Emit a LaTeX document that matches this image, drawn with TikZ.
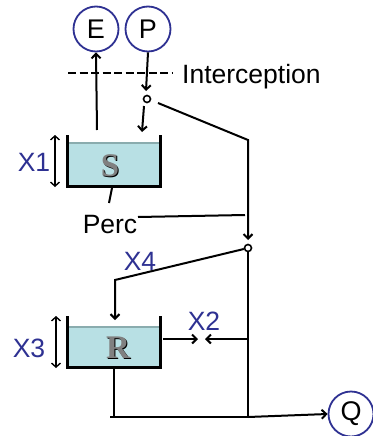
\documentclass[tikz,border=0pt]{standalone}
\usepackage{fontspec}
\setmainfont{Liberation Sans}
\newfontfamily\serifbold{Liberation Serif}
\usetikzlibrary{arrows.meta}
\definecolor{navy}{HTML}{2E3192}
\definecolor{water}{HTML}{B8E0E4}
\definecolor{waterline}{HTML}{8AACAE}
\definecolor{lettergray}{HTML}{808080}
\tikzset{
  flux/.style={line width=2pt},
  arr/.style={flux,-{Straight Barb[length=4.5pt,width=9pt]}},
  dbl/.style={line width=1.4pt,{Straight Barb[length=4pt,width=9pt]}-{Straight Barb[length=4pt,width=9pt]}},
  store/.style={circle,draw=navy,line width=1.8pt,minimum size=45pt,inner sep=0pt,font=\fontsize{27}{30}\selectfont},
  lbl/.style={font=\fontsize{26.5}{30}\selectfont,inner sep=0pt},
  par/.style={lbl,text=navy},
  junction/.style={circle,draw,line width=1.6pt,minimum size=7pt,inner sep=0pt},
  wall/.style={line width=3pt},
  tankletter/.style={font=\serifbold\bfseries\fontsize{33}{35}\selectfont,inner sep=0pt}
}
\newcommand{\shadowletter}[2]{%
  \node[tankletter,text=black] at ([xshift=1pt,yshift=-1pt]#1) {#2};
  \node[tankletter,text=lettergray] at (#1) {#2};}
\begin{document}
\begin{tikzpicture}[x=1pt,y=-1pt]
\useasboundingbox (0,0) rectangle (372,436);
% stores
\node[store] (E) at (96,29) {E};
\node[store] (P) at (148,29) {P};
\node[store] (Q) at (351,414) {Q};
% interception
\coordinate (dl) at (68,73);
\coordinate (dr) at (172,73);
\draw[flux,dash pattern=on 8pt off 3.5pt] (dl) -- (dr);
\node[lbl,anchor=west] (int) at (182,77) {Interception};
% junctions
\node[junction] (c1) at (147,99) {};
\node[junction] (c2) at (248,248) {};
% tank S
\fill[water] (67,143) rectangle (160,186);
\draw[waterline,line width=1.5pt] (67,143) -- (160,143);
\draw[wall] (67,135) -- (67,186) -- (160,186) -- (160,135);
\coordinate (S) at (110,166);
\shadowletter{S}{S}
% tank R
\fill[water] (67,327) rectangle (160,367);
\draw[waterline,line width=1.5pt] (67,327) -- (160,327);
\draw[wall] (67,316) -- (67,367) -- (160,367) -- (160,316);
\coordinate (R) at (118,348);
\shadowletter{R}{R}
% X1, X3
\coordinate (x1t) at (55,135); \coordinate (x1b) at (55,187);
\draw[dbl] (x1t) -- (x1b);
\node[par] (X1) at (34,162) {X1};
\coordinate (x3t) at (56,316); \coordinate (x3b) at (56,368);
\draw[dbl] (x3t) -- (x3b);
\node[par] (X3) at (29,348) {X3};
% E and P fluxes
\coordinate (es) at (97,130);
\draw[arr] (es) -- (E.south);
\coordinate (pt) at (146,91);
\draw[arr] (P.south) -- (pt);
\coordinate (ps) at (144,106);
\coordinate (st) at (142,132);
\draw[arr] (ps) -- (st);
% effective rainfall branch
\coordinate (a1) at (158,103);
\coordinate (a2) at (248,140);
\coordinate (a3) at (248,240);
\draw[arr] (a1) -- (a2) -- (a3);
% Perc
\coordinate (pc1) at (112,188);
\coordinate (pc2) at (109,203);
\draw[flux] (pc1) -- (pc2);
\node[lbl] (Perc) at (110,225) {Perc};
\coordinate (pl) at (138,217);
\coordinate (pr) at (245,215);
\draw[flux] (pl) -- (pr);
% X4 split
\coordinate (b1) at (115,280);
\coordinate (b2) at (115,320);
\draw[arr] (c2) -- (b1) -- (b2);
\node[par] (X4) at (140,261) {X4};
% exchange X2
\coordinate (r1) at (163,339);
\coordinate (r2) at (198,339);
\draw[arr] (r1) -- (r2);
\coordinate (q1) at (248,339);
\coordinate (q2) at (205,339);
\draw[arr] (q1) -- (q2);
\node[par] (X2) at (204,321) {X2};
% direct branch
\coordinate (d2) at (248,417);
\draw[flux] (c2.south) -- (d2);
% routing outflow
\coordinate (o1) at (114,367);
\coordinate (o2) at (114,417);
\coordinate (o0) at (110,417);
\draw[flux] (o1) -- (o2);
\draw[line width=2.6pt] (o0) -- (d2);
\draw[arr] (d2) -- (Q.west);
\end{tikzpicture}
\end{document}
